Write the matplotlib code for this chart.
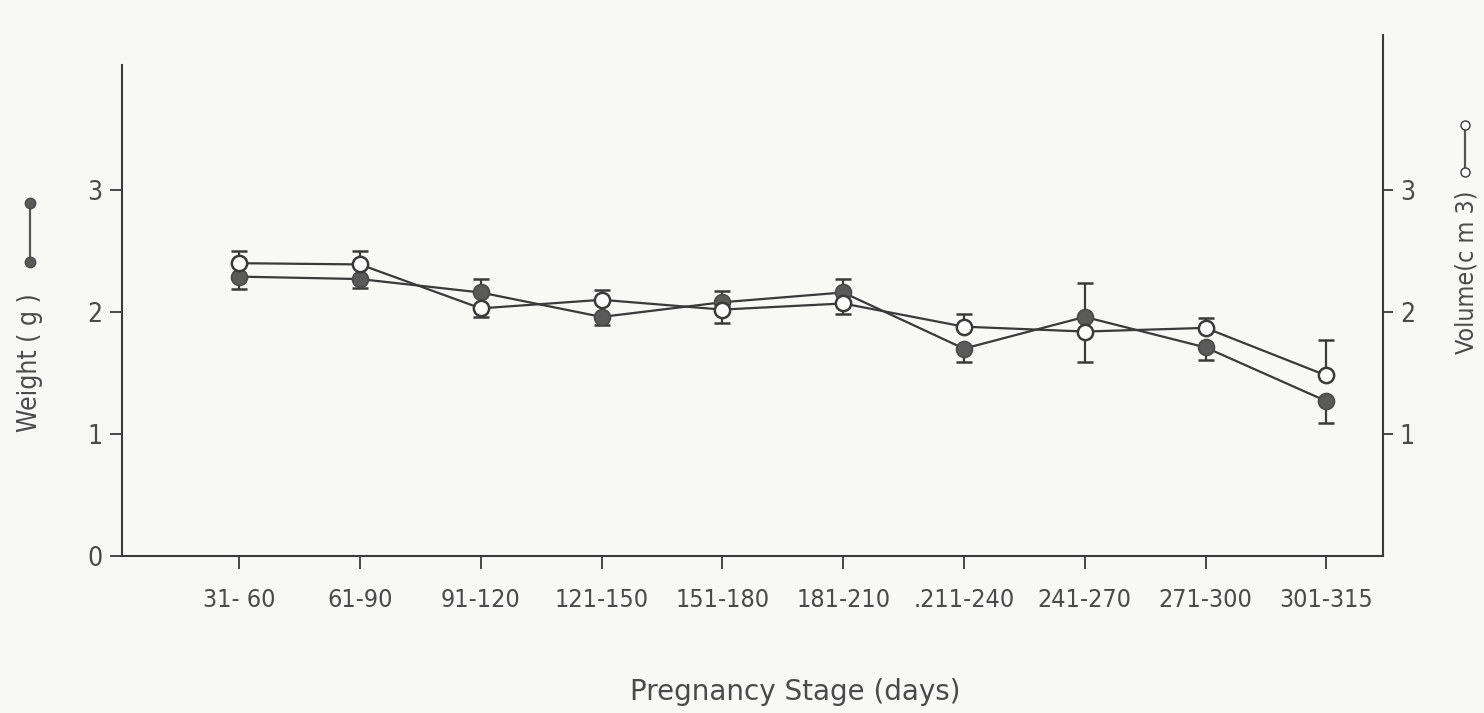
import matplotlib.pyplot as plt
from matplotlib.lines import Line2D
import numpy as np

plt.rcParams['font.family'] = ['DejaVu Sans']
plt.rcParams['font.stretch'] = 'condensed'

stages = ['31- 60', '61-90', '91-120', '121-150', '151-180', '181-210',
          '.211-240', '241-270', '271-300', '301-315']

# weight (g), filled circles  (0 = no bar on that side)
weight = [2.29, 2.27, 2.16, 1.96, 2.08, 2.16, 1.70, 1.96, 1.71, 1.27]
weight_up = [0, 0, 0.11, 0, 0.09, 0.11, 0, 0.28, 0, 0]
weight_lo = [0.10, 0.07, 0, 0.07, 0, 0, 0.11, 0, 0.10, 0.18]

# volume (cm3), open circles
volume = [2.40, 2.39, 2.03, 2.10, 2.02, 2.07, 1.88, 1.84, 1.87, 1.48]
volume_up = [0.10, 0.11, 0, 0.08, 0, 0, 0.10, 0, 0.08, 0.29]
volume_lo = [0, 0, 0.07, 0, 0.11, 0.09, 0, 0.25, 0, 0]

ink = '#3a3a3a'
txt = '#4a4a4a'
bg = '#f8f8f6'

fig = plt.figure(figsize=[14.84, 7.13], dpi=100, facecolor=bg)
ax = fig.add_axes([0.0822, 0.220, 0.8498, 0.731])
ax.set_facecolor(bg)
ax2 = ax.twinx()
x = np.arange(len(stages))


def draw(a, y, lo, hi, mfc, mec, mew, ms):
    y, lo, hi = np.array(y), np.array(lo), np.array(hi)
    a.errorbar(x, y, yerr=[lo, hi], color=ink, lw=1.6, marker='o', ms=ms,
               mfc=mfc, mec=mec, mew=mew, ecolor=ink, elinewidth=1.6,
               capsize=0, zorder=3)
    # caps only on the side that has a bar
    a.plot(x, np.where(hi > 0, y + hi, np.nan), ls='none', marker='_',
           ms=12, mew=1.8, color=ink, zorder=2)
    a.plot(x, np.where(lo > 0, y - lo, np.nan), ls='none', marker='_',
           ms=12, mew=1.8, color=ink, zorder=2)


draw(ax, weight, weight_lo, weight_up, '#5a5a5a', '#4a4a4a', 1.2, 11.5)
draw(ax2, volume, volume_lo, volume_up, 'white', ink, 1.8, 11)

for a in (ax, ax2):
    a.set_xlim(-0.97, 9.47)
    a.set_ylim(0, 4.27)
    a.spines['top'].set_visible(False)
    for s in a.spines.values():
        s.set_color(ink)
        s.set_linewidth(1.5)

ax.spines['right'].set_visible(False)
ax.spines['left'].set_bounds(0, 4.02)
ax2.spines['left'].set_visible(False)
ax2.spines['bottom'].set_visible(False)

ax.set_xticks(x)
ax.set_xticklabels(stages, fontsize=18, color=txt)
ax.set_yticks([0, 1, 2, 3])
ax.set_yticklabels(['0', '1', '2', '3'], fontsize=19, color=txt)
ax.tick_params(axis='both', direction='out', length=9, width=1.3, color=ink, pad=5)
ax.tick_params(axis='x', pad=14)

ax2.set_yticks([1, 2, 3])
ax2.set_yticklabels(['1', '2', '3'], fontsize=19, color=txt)
ax2.tick_params(axis='y', direction='out', length=7, width=1.3, color=ink, pad=5)

fig.text(0.536, 0.03, 'Pregnancy Stage (days)', fontsize=20, color=txt,
         ha='center', va='center', fontstretch='normal')
fig.text(0.0205, 0.492, 'Weight ( g )', fontsize=19, color=txt, rotation=90,
         ha='center', va='center')
fig.text(0.988, 0.618, 'Volume(c m 3)', fontsize=18, color=txt, rotation=90,
         ha='center', va='center')

# legend symbols beside the axis titles
fig.add_artist(Line2D([0.0202, 0.0202], [0.715, 0.633], transform=fig.transFigure,
                      color='#555555', lw=1.6, marker='o', ms=7.5, mfc='#5a5a5a', mec='#4a4a4a'))
fig.add_artist(Line2D([0.987, 0.987], [0.825, 0.759], transform=fig.transFigure,
                      color='#555555', lw=1.6, marker='o', ms=6.5, mfc='white', mec=ink))

plt.savefig('out.png', dpi=100, facecolor=bg)
